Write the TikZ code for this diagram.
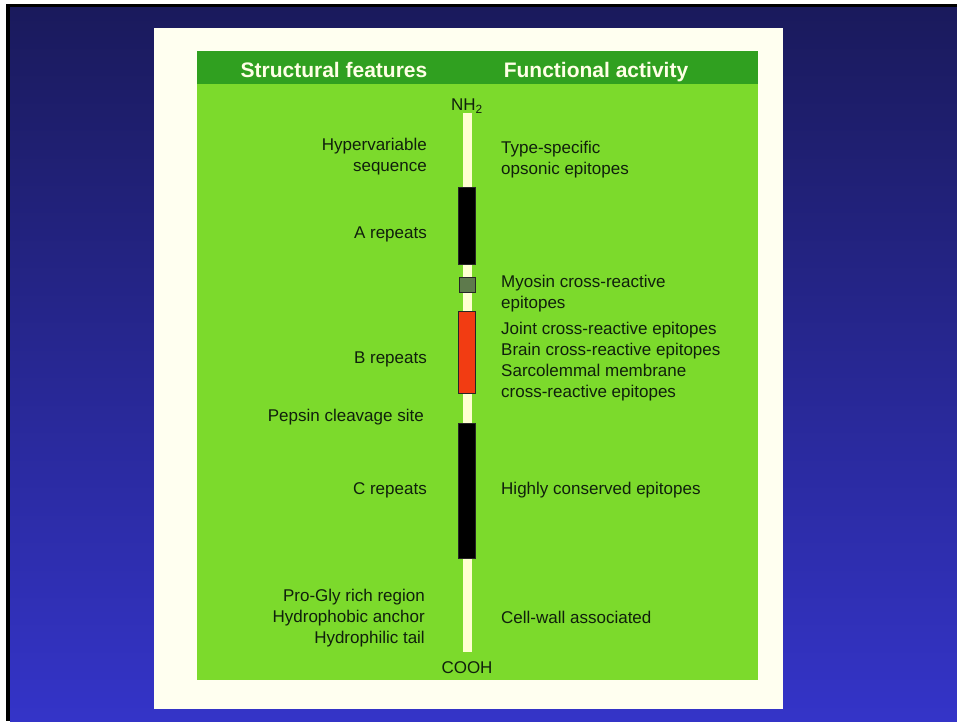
\documentclass[tikz,border=0pt]{standalone}
\usepackage{fontspec}
\setmainfont{Liberation Sans}
\usepackage{xcolor}
\usepackage{tikz}

\definecolor{slidetop}{HTML}{1A1A5C}
\definecolor{slidebottom}{HTML}{3434C8}
\definecolor{cardwhite}{HTML}{FFFFF0}
\definecolor{panelgreen}{HTML}{7CDA2C}
\definecolor{headgreen}{HTML}{30A020}
\definecolor{headtext}{HTML}{FFFFE6}
\definecolor{inkgreen}{HTML}{10200C}
\definecolor{barcream}{HTML}{FFFFD2}
\definecolor{myosingrey}{HTML}{5E7A4C}
\definecolor{jointred}{HTML}{F23C12}

\begin{document}
\begin{tikzpicture}[x=1pt,y=-1pt,
    feat/.style={anchor=east, align=right, inner sep=0pt, text=inkgreen,
                 font=\fontsize{17}{21}\selectfont},
    func/.style={anchor=west, align=left, inner sep=0pt, text=inkgreen,
                 font=\fontsize{17}{21}\selectfont},
    head/.style={anchor=base, inner sep=0pt, text=headtext,
                 font=\fontsize{21}{25}\selectfont\bfseries},
    seg/.style 2 args={draw=black!85, line width=0.8pt, fill=#1,
                 minimum width=17pt, minimum height=#2, inner sep=0pt}
  ]
  \useasboundingbox (0,0) rectangle (957,721);
  % slide background
  \fill[white] (0,0) rectangle (957,721);
  \fill[black] (6,4) rectangle (957,721);
  \shade[top color=slidetop, bottom color=slidebottom] (10,7) rectangle (957,721);
  \fill[cardwhite] (154,28) rectangle (783,709);
  \fill[panelgreen] (197,51) rectangle (758,680);
  \fill[headgreen] (197,51) rectangle (758,84);

  \node[head] (structHead) at (334,77) {Structural features};
  \node[head] (funcHead) at (596,77) {Functional activity};

  % the protein
  \node[text=inkgreen, font=\fontsize{17}{21}\selectfont, inner sep=0pt]
    (nh) at (467,106) {NH\textsubscript{2}};
  \node[text=inkgreen, font=\fontsize{17}{21}\selectfont, inner sep=0pt]
    (cooh) at (467,668) {COOH};
  \coordinate (barTop) at (467.5,113);
  \coordinate (barBot) at (467.5,652);
  \draw[barcream, line width=8.5pt] (barTop) -- (barBot);

  \node[seg={black}{77pt}] (aRep) at (467,225.5) {};
  \node[seg={myosingrey}{15pt}, minimum width=16pt] (myo) at (467,284.5) {};
  \node[seg={jointred}{82pt}] (bRep) at (467,352) {};
  \node[seg={black}{135pt}] (cRep) at (467,490.5) {};

  % structural features
  \node[feat] (hyper) at (427,157) {Hypervariable\\sequence};
  \node[feat] (aLab) at (427,234) {A repeats};
  \node[feat] (bLab) at (427,359) {B repeats};
  \node[feat] (pepsin) at (424,417) {Pepsin cleavage site};
  \node[feat] (cLab) at (427,490) {C repeats};
  \node[feat] (anchor) at (425,618) {Pro-Gly rich region\\Hydrophobic anchor\\Hydrophilic tail};

  % functional activity
  \node[func] (opsonic) at (501,160) {Type-specific\\opsonic epitopes};
  \node[func] (myosin) at (501,294) {Myosin cross-reactive\\epitopes};
  \node[func] (cross) at (501,362) {Joint cross-reactive epitopes\\Brain cross-reactive epitopes\\Sarcolemmal membrane\\cross-reactive epitopes};
  \node[func] (conserved) at (501,490) {Highly conserved epitopes};
  \node[func] (cellwall) at (501,617) {Cell-wall associated};
\end{tikzpicture}
\end{document}
